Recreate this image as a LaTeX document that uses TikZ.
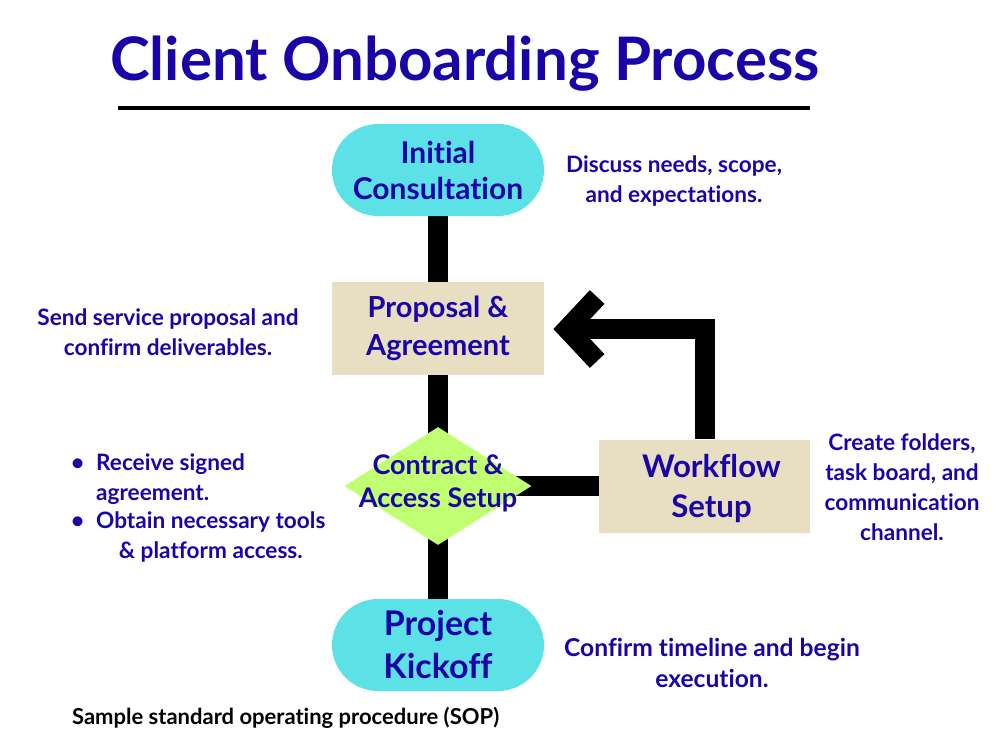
\documentclass[tikz,border=0pt]{standalone}
\usepackage{fontspec}
\setmainfont{Lato}[Ligatures={NoCommon}]
\usepackage{xcolor}
\usetikzlibrary{arrows.meta, shapes.geometric, positioning, backgrounds}

\definecolor{navy}{HTML}{1A04A8}
\definecolor{cyanfill}{HTML}{5CE1E6}
\definecolor{beige}{HTML}{E8DEC1}
\definecolor{limefill}{HTML}{C1FF72}

\begin{document}
\begin{tikzpicture}[
    x=0.5pt, y=-0.5pt,
    font=\bfseries,
    stadium/.style={draw=none, fill=cyanfill, rounded corners=23pt, minimum width=106pt, minimum height=46pt, align=center, text=navy},
    stepbox/.style={draw=none, fill=beige, minimum width=106pt, minimum height=46.5pt, align=center, text=navy},
    desc/.style={align=center, text=navy, font=\bfseries\fontsize{11.3}{15}\selectfont},
    flow/.style={line width=10pt, black}
]

\useasboundingbox (0,0) rectangle (1000,750);

% Title and rule
\node[text=navy, font=\bfseries\fontsize{30}{36}\selectfont] (title) at (465,64) {Client Onboarding Process};
\draw[line width=2pt] (118,108) -- (810,108);

% Process steps
\node[stadium, font=\bfseries\fontsize{15}{18}\selectfont] (init) at (438,170) {Initial\\Consultation};

\node[stepbox, font=\bfseries\fontsize{14.5}{19}\selectfont] (prop) at (438,328) {Proposal \&\\Agreement};

\node[
draw=none,
diamond,
fill=limefill,
inner sep=0pt,
aspect=1.58,
minimum width=93.5pt,
minimum height=59pt,
label={[align=center, text=navy, font=\bfseries\fontsize{13.5}{16.5}\selectfont, yshift=1.5pt]center:Contract \&\\Access Setup}
] (contr) at (438,486) {};

\node[stepbox, minimum width=105.5pt, text depth=-3pt, font=\bfseries\fontsize{15.6}{20}\selectfont] (wf) at (704.5,486) {\hspace*{7pt}Workflow\\\hspace*{7pt}Setup};

\node[stadium, font=\bfseries\fontsize{17}{21.5}\selectfont] (kick) at (438,645) {Project\\Kickoff};

% Connectors (behind the steps)
\begin{scope}[on background layer]
\draw[flow] (init.center) -- (prop.center);
\draw[flow] (prop.center) -- (contr.center);
\draw[flow] (contr.center) -- (kick.center);
\draw[flow] (wf.west) -- (contr.center);
\end{scope}
\draw[flow, -{Straight Barb[length=15pt, width=32pt]}, shorten >=4.5pt] (wf.north -| 705,0) |- (prop.east |- 0,329);

% Descriptions
\node[desc] (dinit) at (674,181) {Discuss needs, scope,\\and expectations.};
\node[desc] (dprop) at (168,332) {Send service proposal and\\confirm deliverables.};
\node[desc] (dwf) at (902,487) {Create folders,\\task board, and\\communication\\channel.};
\node[desc, font=\bfseries\fontsize{12.3}{15.5}\selectfont] (dkick) at (712,663) {Confirm timeline and begin\\execution.};

\node[desc, anchor=north west, align=left] (bul1) at (64,442) {\textbullet\hspace{6pt}\begin{tabular}[t]{@{}l@{}}Receive signed\\agreement.\end{tabular}};
\node[desc, anchor=north west, align=left] (bul2) at (64,500) {\textbullet\hspace{6pt}\begin{tabular}[t]{@{}c@{}}Obtain necessary tools\\\& platform access.\end{tabular}};

% Footer
\node[anchor=west, font=\bfseries\fontsize{11}{13}\selectfont] (sop) at (65,718) {Sample standard operating procedure (SOP)};

\end{tikzpicture}
\end{document}
